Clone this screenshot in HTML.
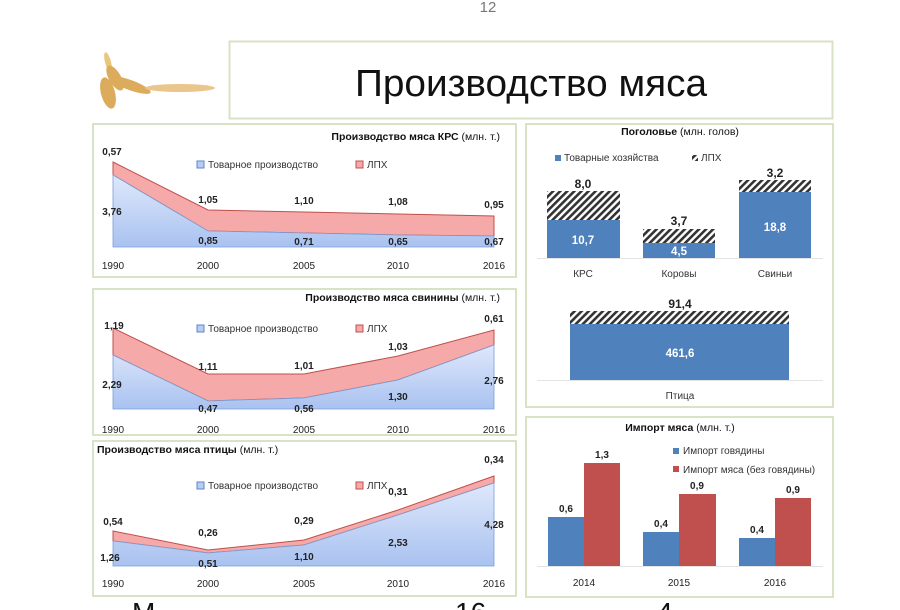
<!DOCTYPE html>
<html><head><meta charset="utf-8"><style>
body{margin:0;background:#fff;width:900px;height:610px;overflow:hidden}
svg{display:block}
text{font-family:"Liberation Sans","DejaVu Sans",sans-serif}
.b{font-weight:bold;font-size:10px;fill:#222}
.y{font-size:10px;fill:#222}
.t{font-size:10.5px;fill:#111}
.lg{font-size:10px;fill:#333}
</style></head><body>
<svg width="900" height="610" viewBox="0 0 900 610">
<defs>
<linearGradient id="bl" x1="0" y1="0" x2="0" y2="1"><stop offset="0" stop-color="#dfe8fb"/><stop offset="1" stop-color="#a9c2f0"/></linearGradient>
<pattern id="h" width="5" height="5" patternUnits="userSpaceOnUse" patternTransform="rotate(45)"><rect width="5" height="5" fill="#fff"/><rect width="2.6" height="5" fill="#333"/></pattern>
</defs>
<text x="488" y="12" font-family="Liberation Serif" font-size="15" fill="#777" text-anchor="middle">12</text>
<!-- wheat -->
<g fill="#d9a24a" opacity="0.9">
<ellipse cx="108" cy="62" rx="10" ry="3" transform="rotate(75 108 62)" fill="#e8c070"/>
<ellipse cx="115" cy="78" rx="14" ry="6" transform="rotate(60 115 78)"/>
<ellipse cx="108" cy="93" rx="16" ry="7" transform="rotate(75 108 93)"/>
<ellipse cx="130" cy="85" rx="22" ry="5" transform="rotate(20 130 85)"/>
<ellipse cx="180" cy="88" rx="35" ry="4" fill="#e8c080"/>
</g>
<rect x="229.5" y="41.5" width="603" height="77" fill="#fff" stroke="#d8e2c4" stroke-width="2"/>
<text x="531" y="96" text-anchor="middle" font-size="38" fill="#111" textLength="352" lengthAdjust="spacingAndGlyphs">Производство мяса</text>

<!-- panel borders -->
<g fill="none" stroke="#d8e2c4" stroke-width="2">
<rect x="93" y="124" width="423" height="153"/>
<rect x="93" y="289" width="423" height="146"/>
<rect x="93" y="441" width="423" height="155"/>
<rect x="526" y="124" width="307" height="283"/>
<rect x="526" y="417" width="307" height="180"/>
</g>

<!-- Panel 1 KRS -->
<polygon points="113,162 208,210 304,212 398,214 494,216 494,236 398,235 304,233 208,231 113,175" fill="#f6a9a9" stroke="#c0504d" stroke-width="1"/>
<polygon points="113,175 208,231 304,233 398,235 494,236 494,247 113,247" fill="url(#bl)" stroke="#7a9fd8" stroke-width="0.8"/>
<text x="500" y="140" text-anchor="end" class="t"><tspan font-weight="bold">Производство мяса КРС</tspan> (млн. т.)</text>
<rect x="197" y="161" width="7" height="7" fill="#b8cdf3" stroke="#5b86c9"/><text x="208" y="168" class="lg">Товарное производство</text>
<rect x="356" y="161" width="7" height="7" fill="#f6a9a9" stroke="#c0504d"/><text x="367" y="168" class="lg">ЛПХ</text>
<g class="b" text-anchor="middle">
<text x="112" y="155">0,57</text><text x="112" y="215">3,76</text>
<text x="208" y="203">1,05</text><text x="304" y="204">1,10</text><text x="398" y="205">1,08</text><text x="494" y="208">0,95</text>
<text x="208" y="244">0,85</text><text x="304" y="245">0,71</text><text x="398" y="245">0,65</text><text x="494" y="245">0,67</text>
</g>
<g class="y" text-anchor="middle"><text x="113" y="269">1990</text><text x="208" y="269">2000</text><text x="304" y="269">2005</text><text x="398" y="269">2010</text><text x="494" y="269">2016</text></g>

<!-- Panel 2 pork -->
<polygon points="113,328 208,374 304,374 398,356 494,330 494,345 398,380 304,398 208,401 113,355" fill="#f6a9a9" stroke="#c0504d"/>
<polygon points="113,355 208,401 304,398 398,380 494,345 494,409 113,409" fill="url(#bl)" stroke="#7a9fd8" stroke-width="0.8"/>
<text x="500" y="301" text-anchor="end" class="t"><tspan font-weight="bold">Производство мяса свинины</tspan> (млн. т.)</text>
<rect x="197" y="325" width="7" height="7" fill="#b8cdf3" stroke="#5b86c9"/><text x="208" y="332" class="lg">Товарное производство</text>
<rect x="356" y="325" width="7" height="7" fill="#f6a9a9" stroke="#c0504d"/><text x="367" y="332" class="lg">ЛПХ</text>
<g class="b" text-anchor="middle">
<text x="114" y="329">1,19</text><text x="112" y="388">2,29</text>
<text x="208" y="370">1,11</text><text x="304" y="369">1,01</text><text x="398" y="350">1,03</text><text x="494" y="322">0,61</text>
<text x="208" y="412">0,47</text><text x="304" y="412">0,56</text><text x="398" y="400">1,30</text><text x="494" y="384">2,76</text>
</g>
<g class="y" text-anchor="middle"><text x="113" y="433">1990</text><text x="208" y="433">2000</text><text x="304" y="433">2005</text><text x="398" y="433">2010</text><text x="494" y="433">2016</text></g>

<!-- Panel 3 poultry -->
<polygon points="113,531 208,550 304,540 398,510 494,476 494,483 398,515 304,545 208,553 113,541" fill="#f6a9a9" stroke="#c0504d"/>
<polygon points="113,541 208,553 304,545 398,515 494,483 494,566 113,566" fill="url(#bl)" stroke="#7a9fd8" stroke-width="0.8"/>
<text x="97" y="453" class="t"><tspan font-weight="bold">Производство мяса птицы</tspan> (млн. т.)</text>
<rect x="197" y="482" width="7" height="7" fill="#b8cdf3" stroke="#5b86c9"/><text x="208" y="489" class="lg">Товарное производство</text>
<rect x="356" y="482" width="7" height="7" fill="#f6a9a9" stroke="#c0504d"/><text x="367" y="489" class="lg">ЛПХ</text>
<g class="b" text-anchor="middle">
<text x="113" y="525">0,54</text><text x="110" y="561">1,26</text>
<text x="208" y="536">0,26</text><text x="304" y="524">0,29</text><text x="398" y="495">0,31</text><text x="494" y="463">0,34</text>
<text x="208" y="567">0,51</text><text x="304" y="560">1,10</text><text x="398" y="546">2,53</text><text x="494" y="528">4,28</text>
</g>
<g class="y" text-anchor="middle"><text x="113" y="587">1990</text><text x="208" y="587">2000</text><text x="304" y="587">2005</text><text x="398" y="587">2010</text><text x="494" y="587">2016</text></g>

<!-- Livestock -->
<text x="680" y="135" text-anchor="middle" class="t"><tspan font-weight="bold">Поголовье</tspan> (млн. голов)</text>
<rect x="555" y="155" width="6" height="6" fill="#4f81bd"/><text x="564" y="161" class="lg" font-size="9">Товарные хозяйства</text>
<rect x="692" y="155" width="6" height="6" fill="url(#h)"/><text x="701" y="161" class="lg" font-size="9">ЛПХ</text>
<line x1="537" y1="258.5" x2="823" y2="258.5" stroke="#e4e4e4"/>
<line x1="537" y1="380.5" x2="823" y2="380.5" stroke="#e4e4e4"/>
<rect x="547" y="191" width="73" height="29" fill="url(#h)"/><rect x="547" y="220" width="73" height="38" fill="#4f81bd"/>
<rect x="643" y="229" width="72" height="14" fill="url(#h)"/><rect x="643" y="243" width="72" height="15" fill="#4f81bd"/>
<rect x="739" y="180" width="72" height="12" fill="url(#h)"/><rect x="739" y="192" width="72" height="66" fill="#4f81bd"/>
<rect x="570" y="311" width="219" height="13" fill="url(#h)"/><rect x="570" y="324" width="219" height="56" fill="#4f81bd"/>
<g font-weight="bold" font-size="12" text-anchor="middle" fill="#222">
<text x="583" y="188">8,0</text><text x="679" y="225">3,7</text><text x="775" y="177">3,2</text><text x="680" y="308">91,4</text>
</g>
<g font-weight="bold" font-size="11.5" text-anchor="middle" fill="#fff">
<text x="583" y="244">10,7</text><text x="679" y="255">4,5</text><text x="775" y="231">18,8</text><text x="680" y="357">461,6</text>
</g>
<g class="lg" font-size="9.5" text-anchor="middle"><text x="583" y="277">КРС</text><text x="679" y="277">Коровы</text><text x="775" y="277">Свиньи</text><text x="680" y="399">Птица</text></g>

<!-- Import -->
<text x="680" y="431" text-anchor="middle" class="t"><tspan font-weight="bold">Импорт мяса</tspan> (млн. т.)</text>
<rect x="673" y="448" width="6" height="6" fill="#4f81bd"/><text x="683" y="454" class="lg" font-size="9.5">Импорт говядины</text>
<rect x="673" y="466" width="6" height="6" fill="#c0504d"/><text x="683" y="473" class="lg" font-size="9.5">Импорт мяса (без говядины)</text>
<line x1="537" y1="566.5" x2="823" y2="566.5" stroke="#e4e4e4"/>
<rect x="548" y="517" width="36" height="49" fill="#4f81bd"/><rect x="584" y="463" width="36" height="103" fill="#c0504d"/>
<rect x="643" y="532" width="36" height="34" fill="#4f81bd"/><rect x="679" y="494" width="37" height="72" fill="#c0504d"/>
<rect x="739" y="538" width="36" height="28" fill="#4f81bd"/><rect x="775" y="498" width="36" height="68" fill="#c0504d"/>
<g class="b" text-anchor="middle">
<text x="566" y="512">0,6</text><text x="602" y="458">1,3</text>
<text x="661" y="527">0,4</text><text x="697" y="489">0,9</text>
<text x="757" y="533">0,4</text><text x="793" y="493">0,9</text>
</g>
<g class="y" text-anchor="middle"><text x="584" y="586">2014</text><text x="679" y="586">2015</text><text x="775" y="586">2016</text></g>

<text x="132" y="622" font-family="Liberation Serif" font-size="28" fill="#111">М</text>
<text x="455" y="622" font-family="Liberation Serif" font-size="28" fill="#111">16</text>
<text x="657" y="622" font-family="Liberation Serif" font-size="28" fill="#111">4</text>
</svg>
</body></html>
